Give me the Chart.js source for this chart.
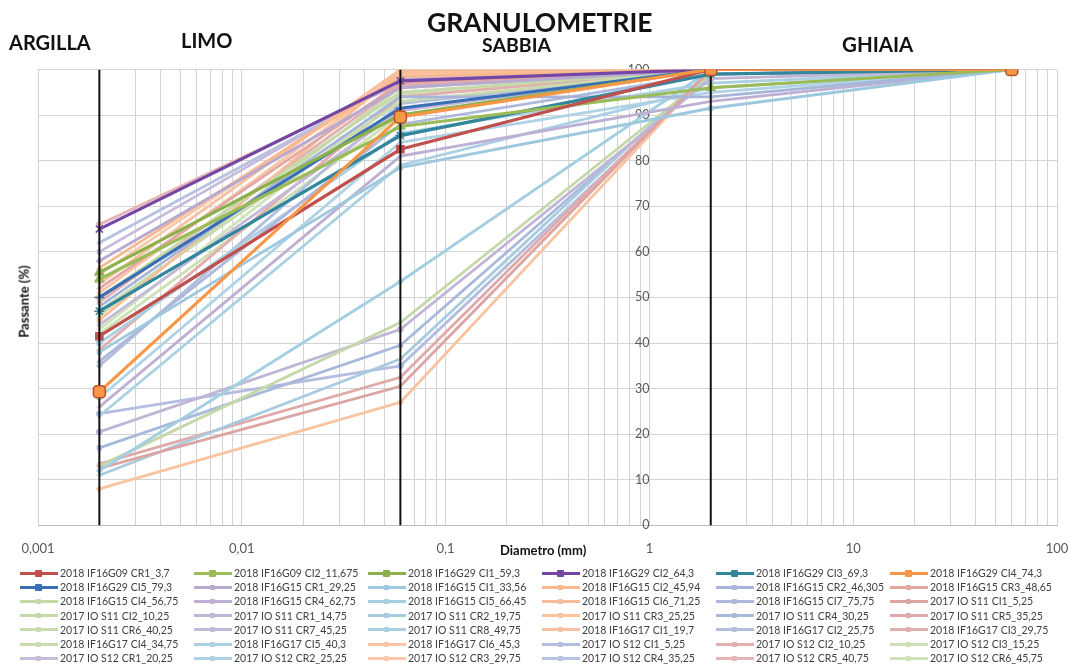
<!DOCTYPE html>
<html>
<head>
<meta charset="utf-8">
<script src="https://cdn.jsdelivr.net/npm/chart.js@4"></script>
<style>
  body { margin: 0; background: #fff; font-family: Lato, "Open Sans", sans-serif; }
  #wrap { position: relative; width: 1071px; height: 664px; overflow: hidden; }
  #chart-box { position: absolute; left: 0; top: 0; width: 1071px; height: 664px; }
  .lbl { position: absolute; font-weight: bold; color: #111; white-space: nowrap; line-height: 1; }
  #legend {
    position: absolute; left: 20px; top: 566px;
    display: grid; grid-template-columns: repeat(6, 174px); grid-auto-rows: 14.2px;
    font-size: 10.5px; color: #404040;
  }
  .item { display: flex; align-items: center; white-space: nowrap; }
  .swatch { position: relative; width: 38px; height: 3px; margin-right: 2px; flex: none; }
  .mark { position: absolute; left: 15px; top: -2px; width: 7px; height: 7px; border-radius: 1px; }
</style>
</head>
<body>
<div id="wrap">
  <div id="chart-box"><canvas id="granulo"></canvas></div>
  <div class="lbl" style="left:427px;top:9px;font-size:26.5px;">GRANULOMETRIE</div>
  <div class="lbl" style="left:9px;top:32px;font-size:20px;">ARGILLA</div>
  <div class="lbl" style="left:181px;top:30px;font-size:20px;">LIMO</div>
  <div class="lbl" style="left:482px;top:35px;font-size:19.5px;">SABBIA</div>
  <div class="lbl" style="left:842px;top:34px;font-size:20.5px;">GHIAIA</div>
  <div class="lbl" style="left:500px;top:544px;font-size:13px;">Diametro (mm)</div>
  <div class="lbl" style="left:-12px;top:295px;font-size:13px;transform:rotate(-90deg);transform-origin:center;">Passante (%)</div>
  <div id="legend"></div>
</div>
<script>
// sieve diameters (mm) at which every sample is read
const diameters = [0.002, 0.06, 2, 60];

// soil class boundaries drawn as black verticals
const zoneBounds = [0.002, 0.06, 2];

const seriesNames = [
  "2018 IF16G09 CR1_3,7", "2018 IF16G09 CI2_11,675", "2018 IF16G29 CI1_59,3",
  "2018 IF16G29 CI2_64,3", "2018 IF16G29 CI3_69,3", "2018 IF16G29 CI4_74,3",
  "2018 IF16G29 CI5_79,3", "2018 IF16G15 CR1_29,25", "2018 IF16G15 CI1_33,56",
  "2018 IF16G15 CI2_45,94", "2018 IF16G15 CR2_46,305", "2018 IF16G15 CR3_48,65",
  "2018 IF16G15 CI4_56,75", "2018 IF16G15 CR4_62,75", "2018 IF16G15 CI5_66,45",
  "2018 IF16G15 CI6_71,25", "2018 IF16G15 CI7_75,75", "2017 IO S11 CI1_5,25",
  "2017 IO S11 CI2_10,25", "2017 IO S11 CR1_14,75", "2017 IO S11 CR2_19,75",
  "2017 IO S11 CR3_25,25", "2017 IO S11 CR4_30,25", "2017 IO S11 CR5_35,25",
  "2017 IO S11 CR6_40,25", "2017 IO S11 CR7_45,25", "2017 IO S11 CR8_49,75",
  "2018 IF16G17 CI1_19,7", "2018 IF16G17 CI2_25,75", "2018 IF16G17 CI3_29,75",
  "2018 IF16G17 CI4_34,75", "2018 IF16G17 CI5_40,3", "2018 IF16G17 CI6_45,3",
  "2017 IO S12 CI1_5,25", "2017 IO S12 CI2_10,25", "2017 IO S12 CI3_15,25",
  "2017 IO S12 CR1_20,25", "2017 IO S12 CR2_25,25", "2017 IO S12 CR3_29,75",
  "2017 IO S12 CR4_35,25", "2017 IO S12 CR5_40,75", "2017 IO S12 CR6_45,75"
];

// passing percentage at each diameter, one entry per sample (same order as seriesNames)
const passing002 = [
  41.5, 54, 55.5, 65, 47, 29.3, 50, 58, 38, 56.5, 48, 52, 50, 26,
  12, 45, 36, 12.5, 13, 20.5, 11, 8, 17, 13.5, 47, 44, 40, 53,
  35, 49, 46, 24, 51, 24.5, 38.5, 42, 60, 28, 55, 62, 66, 43
];
const passing006 = [
  82.5, 87.5, 90, 97.5, 85.5, 89.6, 91.5, 96, 78.5, 98.5, 94, 97, 95, 81,
  53.5, 99.5, 88, 30.5, 44.5, 43, 36.5, 27, 39.5, 32.5, 93, 91, 86, 100,
  92.5, 96.5, 96, 79, 99, 35, 94, 90, 98, 84, 99.5, 97.5, 97, 94.5
];
const passing2 = [
  100, 96, 100, 100, 99, 100, 100, 100, 91.5, 100, 94, 100, 100, 93,
  100, 100, 99, 100, 99, 98, 100, 100, 99, 100, 100, 100, 97, 100,
  100, 100, 100, 96, 100, 99, 100, 100, 100, 95, 100, 100, 100, 100
];
const passing60 = [
  100, 100, 100, 100, 100, 100, 100, 100, 100, 100, 100, 100, 100, 100,
  100, 100, 100, 100, 100, 100, 100, 100, 100, 100, 100, 100, 100, 100,
  100, 100, 100, 100, 100, 100, 100, 100, 100, 100, 100, 100, 100, 100
];

const seriesColors = [
  "#c0504d", "#9bbb59", "#8db04a", "#7446a6", "#31859c", "#f79646", "#3a6fb6",
  "#b7a9d0", "#9dc8de", "#f9b98f", "#a7b5da", "#e3a7a4", "#c4d8a8", "#bdb0d4",
  "#a4cfe3", "#f8bd98", "#aeb8dc", "#dda4a4", "#c5d8aa", "#c0b5d6", "#a8cbdf",
  "#f9c3a0", "#a9b9dc", "#e0aaaa", "#c8dbae", "#c3b9d8", "#a9cfe0", "#f8c0a0",
  "#b3bedd", "#e3b0b0", "#cadcaf", "#a9d0e4", "#f9c5a6", "#b3bde0", "#e2aeae",
  "#cde0b5", "#c6bcda", "#afd3e5", "#fac8aa", "#b7c1e2", "#e6b4b4", "#d0e2b8"
];

const xMajorTicks = [0.001, 0.01, 0.1, 1, 10, 100];
const xTickLabels = ["0,001", "0,01", "0,1", "1", "10", "100"];
const yStep = 10;

const markerCycle = ["rect", "triangle", "triangle", "crossRot", "star", "rectRounded", "cross"];
const lightMarkers = ["rectRot", "rect", "triangle", "crossRot", "star", "circle", "cross"];

/*************************************************************
 * Datasets
 *************************************************************/
const sieveColumns = [passing002, passing006, passing2, passing60];

const sampleSets = seriesNames.map((name, i) => {
  const strong = i < 7;
  const color = seriesColors[i];
  const isOrange = i === 5;
  return {
    label: name,
    data: diameters.map((d, k) => ({ x: d, y: sieveColumns[k][i] })),
    borderColor: color,
    backgroundColor: color,
    borderWidth: strong ? 3.2 : 2.8,
    pointStyle: strong ? markerCycle[i] : lightMarkers[(i - 7) % 7],
    pointRadius: strong ? (isOrange ? 7 : 5) : 3,
    pointBorderColor: isOrange ? "#b5542a" : color,
    pointBorderWidth: strong ? 1.5 : 1,
    pointBackgroundColor: color,
    // orange sample sits above everything, as in the sheet
    order: isOrange ? -1 : 1,
  };
});

const boundSets = zoneBounds.map((b) => ({
  label: "_bound",
  data: [{ x: b, y: 0 }, { x: b, y: 100 }],
  borderColor: "#111",
  borderWidth: 2,
  pointRadius: 0,
  order: 0,
}));

const gridValues = [];
xMajorTicks.forEach((m, i) => {
  if (i === xMajorTicks.length - 1) {
    gridValues.push(m);
    return;
  }
  for (let k = 1; k < 10; k++) gridValues.push(Number((k * m).toPrecision(6)));
});

const labelFor = (v) => {
  const e = Math.log10(v);
  if (Math.abs(e - Math.round(e)) > 1e-6) return "";
  return xTickLabels[Math.round(e) + 3] || "";
};

new Chart(document.getElementById("granulo"), {
  type: "line",
  data: { datasets: [...sampleSets, ...boundSets] },
  options: {
    animation: false,
    responsive: true,
    maintainAspectRatio: false,
    layout: { padding: { left: 38, right: 14, top: 69.5, bottom: 91 } },
    plugins: { legend: { display: false }, tooltip: { enabled: false } },
    scales: {
      x: {
        type: "logarithmic",
        min: 0.001,
        max: 100,
        afterBuildTicks: (axis) => {
          axis.ticks = gridValues.map((v) => ({ value: v }));
        },
        // tick padding also pads sideways; keep only the half-label overhang
        afterFit: (axis) => {
          axis.paddingLeft = 16;
          axis.paddingRight = 11;
        },
        ticks: {
          autoSkip: false,
          maxRotation: 0,
          padding: 16,
          color: "#595959",
          font: { family: "Lato", size: 13 },
          callback: (v) => labelFor(v),
        },
        grid: { color: "#d3d3d3", drawTicks: false },
        border: { color: "#bdbdbd" },
      },
      y: {
        type: "linear",
        min: 0,
        max: 100,
        position: { x: 1 },
        afterFit: (axis) => {
          axis.width = 0;
        },
        ticks: {
          stepSize: yStep,
          padding: 14,
          color: "#595959",
          font: { family: "Lato", size: 12.5 },
        },
        grid: { color: "#d3d3d3", drawTicks: false },
        border: { display: false },
      },
    },
  },
});

/*************************************************************
 * Legend
 *************************************************************/
const legend = document.getElementById("legend");
seriesNames.forEach((name, i) => {
  const item = document.createElement("div");
  item.className = "item";
  const sw = document.createElement("span");
  sw.className = "swatch";
  sw.style.background = seriesColors[i];
  const mk = document.createElement("span");
  mk.className = "mark";
  mk.style.background = seriesColors[i];
  if (i >= 7) {
    mk.style.width = "5px";
    mk.style.height = "5px";
    mk.style.left = "16px";
    mk.style.top = "-1px";
  }
  sw.appendChild(mk);
  const tx = document.createElement("span");
  tx.textContent = name;
  item.appendChild(sw);
  item.appendChild(tx);
  legend.appendChild(item);
});
</script>
</body>
</html>
